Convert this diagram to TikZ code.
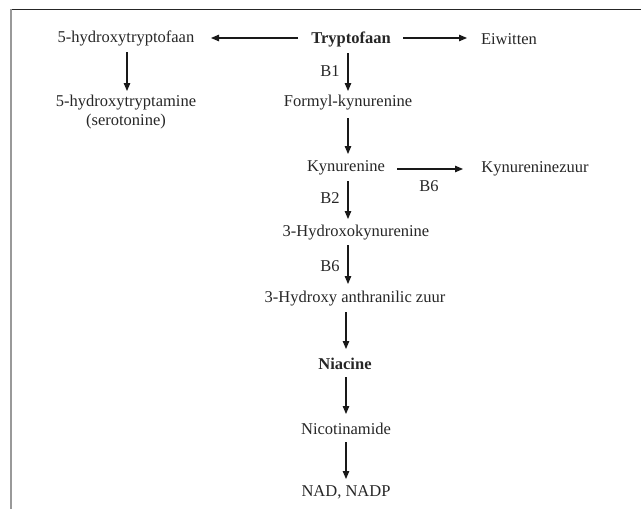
\documentclass[tikz,border=0pt]{standalone}
\usepackage{fontspec}
\setmainfont{Liberation Serif}
\usetikzlibrary{arrows.meta}
\begin{document}
\begin{tikzpicture}[x=1pt,y=-1pt,
  lbl/.style={font=\fontsize{16.5}{19}\selectfont, inner sep=1pt, text=black!85, yshift=-1.5pt},
  bl/.style={lbl, font=\fontsize{16.5}{19}\selectfont\bfseries},
  arr/.style={-{Triangle[length=8pt,width=6.5pt]}, line width=1.1pt, black!90}]
\useasboundingbox (0,0) rectangle (641,509);
\draw[line width=1.3pt, black!85] (10,9.5) -- (641,9.5);
\draw[line width=2pt, gray!80] (10.5,9) -- (10.5,509);
% nodes
\node[lbl] (htf) at (126,37) {5-hydroxytryptofaan};
\node[bl] (try) at (351,38) {Tryptofaan};
\node[lbl] (eiw) at (509,38) {Eiwitten};
\node[lbl, align=center] (hta) at (126,111) {5-hydroxytryptamine\\(serotonine)};
\node[lbl] (fk) at (348,101) {Formyl-kynurenine};
\node[lbl] (kyn) at (346,166) {Kynurenine};
\node[lbl] (kz) at (535,167) {Kynureninezuur};
\node[lbl] (hk) at (356,231) {3-Hydroxokynurenine};
\node[lbl] (haz) at (355,297) {3-Hydroxy anthranilic zuur};
\node[bl] (nia) at (345,362) {Niacine};
\node[lbl] (nic) at (346,427) {Nicotinamide};
\node[lbl] (nad) at (346,491) {NAD, NADP};
% enzyme labels
\node[lbl] (b1) at (330,70) {B1};
\node[lbl] (b6a) at (429,185) {B6};
\node[lbl] (b2) at (330,197) {B2};
\node[lbl] (b6b) at (330,265) {B6};
% coordinates for connectors
\coordinate (a1s) at (298,38); \coordinate (a1e) at (211,38);
\coordinate (a2s) at (403,38); \coordinate (a2e) at (467,38);
\coordinate (a3s) at (127,52); \coordinate (a3e) at (127,91);
\coordinate (a4s) at (348,53); \coordinate (a4e) at (348,91);
\coordinate (a5s) at (348,118); \coordinate (a5e) at (348,154);
\coordinate (a6s) at (397,169); \coordinate (a6e) at (463,169);
\coordinate (a7s) at (348,181); \coordinate (a7e) at (348,219);
\coordinate (a8s) at (348,245); \coordinate (a8e) at (348,284);
\coordinate (a9s) at (346,312); \coordinate (a9e) at (346,349);
\coordinate (a10s) at (346,377); \coordinate (a10e) at (346,414);
\coordinate (a11s) at (346,442); \coordinate (a11e) at (346,479);
\draw[arr] (a1s) -- (a1e);
\draw[arr] (a2s) -- (a2e);
\draw[arr] (a3s) -- (a3e);
\draw[arr] (a4s) -- (a4e);
\draw[arr] (a5s) -- (a5e);
\draw[arr] (a6s) -- (a6e);
\draw[arr] (a7s) -- (a7e);
\draw[arr] (a8s) -- (a8e);
\draw[arr] (a9s) -- (a9e);
\draw[arr] (a10s) -- (a10e);
\draw[arr] (a11s) -- (a11e);
\end{tikzpicture}
\end{document}
